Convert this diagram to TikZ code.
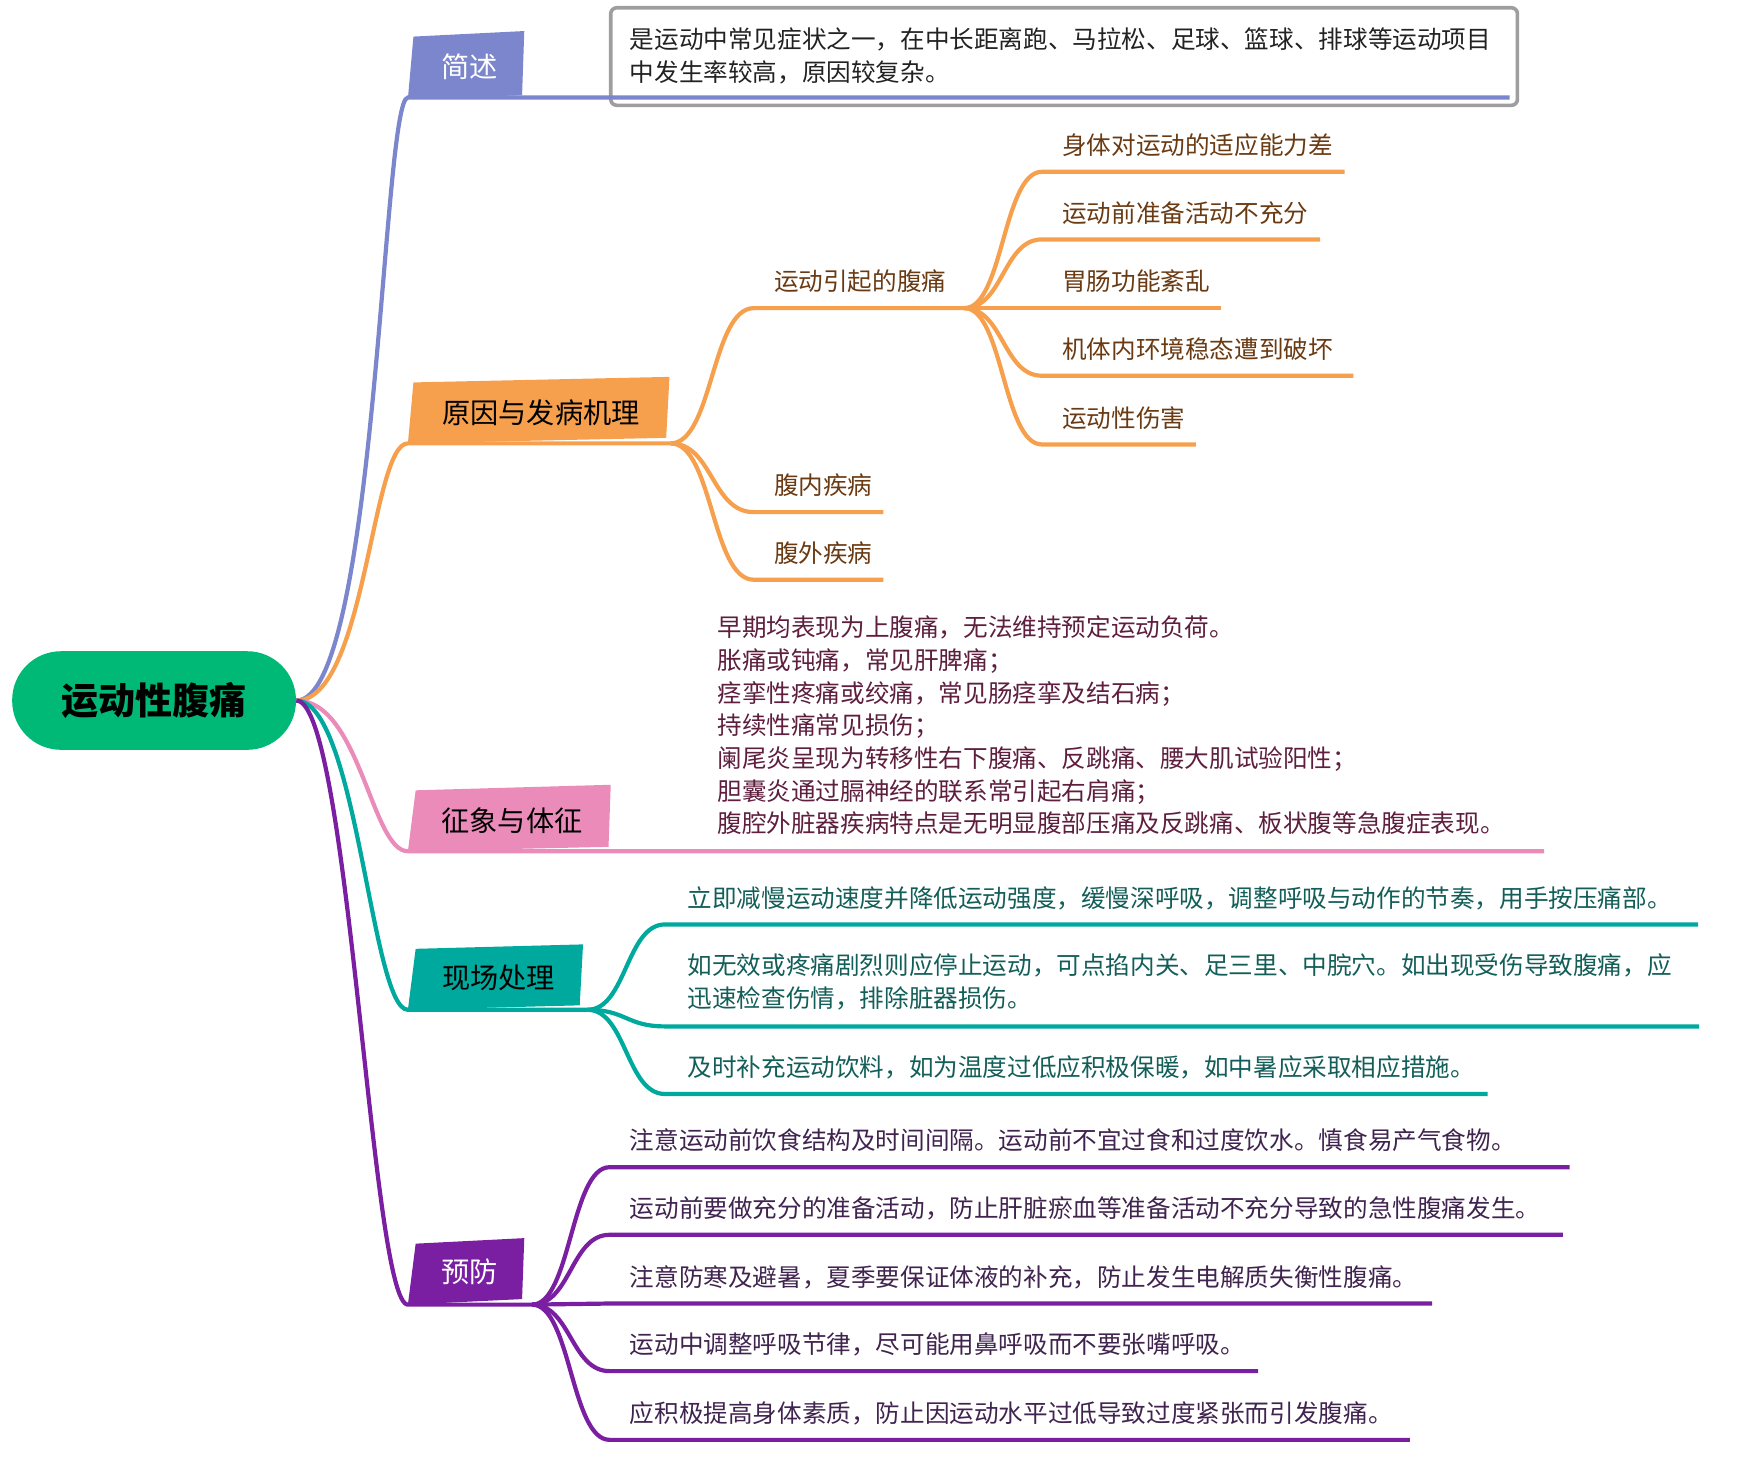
\documentclass[tikz,border=0pt]{standalone}
\usepackage{fontspec}
\setmainfont{Noto Sans CJK SC}
\definecolor{cBlue}{HTML}{7B86CC}
\definecolor{cOrange}{HTML}{F6A04D}
\definecolor{cPink}{HTML}{EB8BBA}
\definecolor{cTeal}{HTML}{00A99D}
\definecolor{cPurple}{HTML}{7B1FA2}
\definecolor{cGreen}{HTML}{00B976}
\definecolor{cGray}{HTML}{9E9E9E}
\definecolor{tBrown}{HTML}{6A3A12}
\definecolor{tPink}{HTML}{5E1F3E}
\definecolor{tTeal}{HTML}{135E58}
\definecolor{tPurple}{HTML}{40244F}
\definecolor{tDark}{HTML}{222222}
\newcommand\mlines[2]{\vtop{\baselineskip=#1\lineskiplimit=-1000pt\relax #2}}
\tikzset{
  rootnode/.style={fill=cGreen, rounded corners=24.4pt, minimum width=141.9pt, minimum height=49.3pt, inner sep=0pt, font=\fontsize{18.5}{20}\selectfont\bfseries, text=black},
  lonetext/.style={anchor=base, inner sep=0pt, font=\fontsize{14.1}{16}\selectfont},
  leaftext/.style={anchor=base west, inner sep=0pt, font=\fontsize{12.3}{16.5}\selectfont},
  mainline/.style={line width=2.1pt},
  subline/.style={line width=2.1pt},
}
\begin{document}
\begin{tikzpicture}[x=0.5542pt,y=-0.5542pt]
\useasboundingbox (0,0) rectangle (1568,1314);

% root
\node[rootnode] (root) at (139,632) {运动性腹痛};

% coordinates
\coordinate (b1) at (368,88);   \coordinate (e1) at (1362,88);
\coordinate (b2) at (368,400);  \coordinate (e2) at (605,400);
\coordinate (b3) at (368,768);  \coordinate (e3) at (1393,768);
\coordinate (b4) at (368,911);  \coordinate (e4) at (530,911);
\coordinate (b5) at (368,1177); \coordinate (e5) at (480,1177);

% ---------- 简述 ----------
\draw[cGray, line width=1.8pt, rounded corners=3pt] (551,7) rectangle (1369,95);
\fill[cBlue] (373,33) -- (473,28) -- (471,86) -- (368,89) -- cycle;
\node[lonetext, text=white] (n1) at (424,70) {简述};
\draw[cBlue, mainline] (root.east) .. controls (340,632) and (345,88) .. (b1) -- (e1);
\node[leaftext, text=tDark] (brief) at (568,43.4) {\mlines{16.6pt}{\hbox{是运动中常见症状之一，在中长距离跑、马拉松、足球、篮球、排球等运动项目}\hbox{中发生率较高，原因较复杂。}}};

% ---------- 原因与发病机理 ----------
\fill[cOrange] (373,345) -- (604,340) -- (601,395) -- (368,400) -- cycle;
\node[lonetext, text=black] (n2) at (488,382) {原因与发病机理};
\draw[cOrange, mainline] (root.east) .. controls (330,632) and (335,400) .. (b2) -- (e2);

\coordinate (c21) at (680,278); \coordinate (d21) at (870,278);
\coordinate (c22) at (680,462); \coordinate (d22) at (797,462);
\coordinate (c23) at (680,523); \coordinate (d23) at (797,523);
\draw[cOrange, subline] (e2) .. controls +(38,0) and +(-38,0) .. (c21) -- (d21);
\draw[cOrange, subline] (e2) .. controls +(38,0) and +(-38,0) .. (c22) -- (d22);
\draw[cOrange, subline] (e2) .. controls +(38,0) and +(-38,0) .. (c23) -- (d23);
\node[leaftext, text=tBrown] (t21) at (698,262.4) {运动引起的腹痛};
\node[leaftext, text=tBrown] (t22) at (698,446.4) {腹内疾病};
\node[leaftext, text=tBrown] (t23) at (698,507.4) {腹外疾病};

\coordinate (c31) at (940,155); \coordinate (d31) at (1213,155);
\coordinate (c32) at (940,216); \coordinate (d32) at (1191,216);
\coordinate (d33) at (1102,278);
\coordinate (c34) at (940,339); \coordinate (d34) at (1221,339);
\coordinate (c35) at (940,401); \coordinate (d35) at (1079,401);
\draw[cOrange, subline] (d21) .. controls +(35,0) and +(-35,0) .. (c31) -- (d31);
\draw[cOrange, subline] (d21) .. controls +(35,0) and +(-35,0) .. (c32) -- (d32);
\draw[cOrange, subline] (d21) -- (d33);
\draw[cOrange, subline] (d21) .. controls +(35,0) and +(-35,0) .. (c34) -- (d34);
\draw[cOrange, subline] (d21) .. controls +(35,0) and +(-35,0) .. (c35) -- (d35);
\node[leaftext, text=tBrown] (t31) at (958,139.4) {身体对运动的适应能力差};
\node[leaftext, text=tBrown] (t32) at (958,200.4) {运动前准备活动不充分};
\node[leaftext, text=tBrown] (t33) at (958,262.4) {胃肠功能紊乱};
\node[leaftext, text=tBrown] (t34) at (958,323.4) {机体内环境稳态遭到破坏};
\node[leaftext, text=tBrown] (t35) at (958,385.4) {运动性伤害};

% ---------- 征象与体征 ----------
\fill[cPink] (375,713) -- (551,708) -- (549,764) -- (368,768) -- cycle;
\node[lonetext, text=black] (n3) at (462,750) {征象与体征};
\draw[cPink, mainline] (root.east) .. controls (325,632) and (335,768) .. (b3) -- (e3);
\node[leaftext, text=tPink] (sign) at (647,574.4) {\mlines{16.35pt}{%
\hbox{早期均表现为上腹痛，无法维持预定运动负荷。}%
\hbox{胀痛或钝痛，常见肝脾痛；}%
\hbox{痉挛性疼痛或绞痛，常见肠痉挛及结石病；}%
\hbox{持续性痛常见损伤；}%
\hbox{阑尾炎呈现为转移性右下腹痛、反跳痛、腰大肌试验阳性；}%
\hbox{胆囊炎通过膈神经的联系常引起右肩痛；}%
\hbox{腹腔外脏器疾病特点是无明显腹部压痛及反跳痛、板状腹等急腹症表现。}}};

% ---------- 现场处理 ----------
\fill[cTeal] (375,856) -- (526,852) -- (523,907) -- (368,911) -- cycle;
\node[lonetext, text=black] (n4) at (450,892) {现场处理};
\draw[cTeal, mainline] (root.east) .. controls (322,632) and (335,911) .. (b4) -- (e4);
\coordinate (c41) at (600,834); \coordinate (d41) at (1532,834);
\coordinate (c42) at (600,926); \coordinate (d42) at (1533,926);
\coordinate (c43) at (600,987); \coordinate (d43) at (1342,987);
\draw[cTeal, subline] (e4) .. controls +(35,0) and +(-35,0) .. (c41) -- (d41);
\draw[cTeal, subline] (e4) .. controls +(35,0) and +(-35,0) .. (c42) -- (d42);
\draw[cTeal, subline] (e4) .. controls +(35,0) and +(-35,0) .. (c43) -- (d43);
\node[leaftext, text=tTeal] (t41) at (620,818.4) {立即减慢运动速度并降低运动强度，缓慢深呼吸，调整呼吸与动作的节奏，用手按压痛部。};
\node[leaftext, text=tTeal] (t42) at (620,879.4) {\mlines{16.6pt}{\hbox{如无效或疼痛剧烈则应停止运动，可点掐内关、足三里、中脘穴。如出现受伤导致腹痛，应}\hbox{迅速检查伤情，排除脏器损伤。}}};
\node[leaftext, text=tTeal] (t43) at (620,971.4) {及时补充运动饮料，如为温度过低应积极保暖，如中暑应采取相应措施。};

% ---------- 预防 ----------
\fill[cPurple] (375,1122) -- (473,1117) -- (471,1172) -- (368,1177) -- cycle;
\node[lonetext, text=white] (n5) at (424,1157) {预防};
\draw[cPurple, mainline] (root.east) .. controls (315,632) and (335,1177) .. (b5) -- (e5);
\coordinate (c51) at (550,1053); \coordinate (d51) at (1416,1053);
\coordinate (c52) at (550,1114); \coordinate (d52) at (1410,1114);
\coordinate (c53) at (550,1176); \coordinate (d53) at (1292,1176);
\coordinate (c54) at (550,1237); \coordinate (d54) at (1135,1237);
\coordinate (c55) at (550,1299); \coordinate (d55) at (1272,1299);
\draw[cPurple, subline] (e5) .. controls +(35,0) and +(-35,0) .. (c51) -- (d51);
\draw[cPurple, subline] (e5) .. controls +(35,0) and +(-35,0) .. (c52) -- (d52);
\draw[cPurple, subline] (e5) .. controls +(35,0) and +(-35,0) .. (c53) -- (d53);
\draw[cPurple, subline] (e5) .. controls +(35,0) and +(-35,0) .. (c54) -- (d54);
\draw[cPurple, subline] (e5) .. controls +(35,0) and +(-35,0) .. (c55) -- (d55);
\node[leaftext, text=tPurple] (t51) at (568,1037.4) {注意运动前饮食结构及时间间隔。运动前不宜过食和过度饮水。慎食易产气食物。};
\node[leaftext, text=tPurple] (t52) at (568,1098.4) {运动前要做充分的准备活动，防止肝脏瘀血等准备活动不充分导致的急性腹痛发生。};
\node[leaftext, text=tPurple] (t53) at (568,1160.4) {注意防寒及避暑，夏季要保证体液的补充，防止发生电解质失衡性腹痛。};
\node[leaftext, text=tPurple] (t54) at (568,1221.4) {运动中调整呼吸节律，尽可能用鼻呼吸而不要张嘴呼吸。};
\node[leaftext, text=tPurple] (t55) at (568,1283.4) {应积极提高身体素质，防止因运动水平过低导致过度紧张而引发腹痛。};
\end{tikzpicture}
\end{document}
